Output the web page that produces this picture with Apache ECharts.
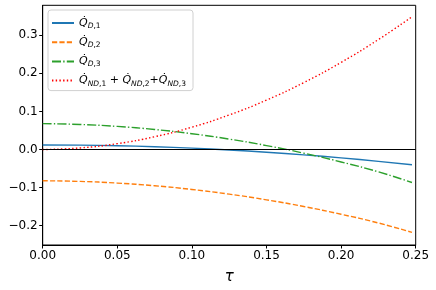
<!DOCTYPE html>
<html><head><meta charset="utf-8">
<script src="https://cdn.jsdelivr.net/npm/echarts@6/dist/echarts.min.js"></script>
<style>html,body{margin:0;padding:0;background:#fff}#c{width:436px;height:290px}</style>
</head><body><div id="c"></div>
<script>
const tau = [0, 0.025, 0.05, 0.075, 0.1, 0.125, 0.15, 0.175, 0.2, 0.225, 0.2475];
const qD1 = [0.012, 0.0115, 0.0100, 0.0074, 0.0037, -0.0011, -0.0070, -0.0139, -0.0219, -0.0310, -0.0401];
const qD2 = [-0.082, -0.0837, -0.0881, -0.0951, -0.1048, -0.1171, -0.1320, -0.1496, -0.1699, -0.1928, -0.2175];
const qD3 = [0.068, 0.0658, 0.0607, 0.0526, 0.0415, 0.0274, 0.0104, -0.0096, -0.0326, -0.0586, -0.0865];
const qND = [0, 0.0042, 0.0154, 0.0336, 0.0587, 0.0908, 0.1298, 0.1758, 0.2288, 0.2887, 0.3486];
const xTicks = [0, 0.05, 0.1, 0.15, 0.2, 0.25];
const yTicks = [-0.2, -0.1, 0, 0.1, 0.2, 0.3];
const names = ['QD1', 'QD2', 'QD3', 'QND'];
const legendText = {
  QD1: '{q|Q\u0307}{si|D}{su|,1}',
  QD2: '{q|Q\u0307}{si|D}{su|,2}',
  QD3: '{q|Q\u0307}{si|D}{su|,3}',
  QND: '{q|Q\u0307}{si|ND}{su|,1}{p| + }{q|Q\u0307}{si|ND}{su|,2}{p|+}{q|Q\u0307}{si|ND}{su|,3}'
};
const zip = (ys) => tau.map((t, i) => [t, ys[i]]);
const font = 'DejaVu Sans';
const chart = echarts.init(document.getElementById('c'), null, {renderer: 'canvas'});
const mkSeries = (name, ys, color, type, extra) => Object.assign({
  name, type: 'line', data: zip(ys), smooth: true, symbol: 'none', showSymbol: false,
  lineStyle: {color, width: 1.4, type}, itemStyle: {color}, animation: false, z: 3
}, extra || {});
chart.setOption({
  animation: false,
  grid: {left: 42.7, right: 20.3, top: 5.3, bottom: 42.7, show: true, borderColor: '#000', borderWidth: 1, backgroundColor: 'transparent'},
  xAxis: {
    type: 'value', min: 0, max: 0.25, interval: 0.05,
    name: '\u03c4', nameLocation: 'middle', nameGap: 25,
    nameTextStyle: {fontFamily: font, fontStyle: 'italic', fontSize: 15, color: '#000'},
    axisLine: {show: true, onZero: false, lineStyle: {color: '#000', width: 1}},
    axisTick: {show: true, inside: false, length: 3.5, lineStyle: {color: '#000', width: 1}},
    axisLabel: {fontFamily: font, fontSize: 12, color: '#000', margin: 5, formatter: v => v.toFixed(2)},
    splitLine: {show: false}
  },
  yAxis: {
    type: 'value', min: -0.2506, max: 0.3786,
    axisLine: {show: true, onZero: false, lineStyle: {color: '#000', width: 1}},
    axisTick: {show: true, inside: false, length: 3.5, customValues: yTicks, lineStyle: {color: '#000', width: 1}},
    axisLabel: {fontFamily: font, fontSize: 12, color: '#000', margin: 5, customValues: yTicks,
      formatter: v => (v < 0 ? '\u2212' : '') + Math.abs(v).toFixed(1)},
    splitLine: {show: false}
  },
  legend: {
    data: names, orient: 'vertical', left: 48, top: 10, itemWidth: 22, itemHeight: 10, itemGap: 5.2,
    padding: [6, 7, 3, 3], borderColor: '#d0d0d0', borderWidth: 1, borderRadius: 3,
    backgroundColor: 'rgba(255,255,255,0.8)',
    itemStyle: {opacity: 0},
    formatter: n => legendText[n],
    textStyle: {
      fontFamily: font, fontSize: 11, color: '#000', lineHeight: 14,
      rich: {
        q: {fontFamily: font, fontStyle: 'italic', fontSize: 11, color: '#000', lineHeight: 14},
        si: {fontFamily: font, fontStyle: 'italic', fontSize: 7.5, color: '#000', lineHeight: 14, verticalAlign: 'bottom'},
        su: {fontFamily: font, fontSize: 7.5, color: '#000', lineHeight: 14, verticalAlign: 'bottom'},
        p: {fontFamily: font, fontSize: 11, color: '#000', lineHeight: 14}
      }
    }
  },
  series: [
    mkSeries('QD1', qD1, '#1f77b4', 'solid', {
      markLine: {silent: true, symbol: 'none', label: {show: false}, animation: false,
        lineStyle: {color: '#000', width: 1, type: 'solid'}, data: [{yAxis: 0}]}
    }),
    mkSeries('QD2', qD2, '#ff7f0e', [5.2, 2.2]),
    mkSeries('QD3', qD3, '#2ca02c', [9, 2.2, 1.4, 2.2]),
    mkSeries('QND', qND, '#ff0000', [1.4, 2.3])
  ]
});
</script></body></html>
